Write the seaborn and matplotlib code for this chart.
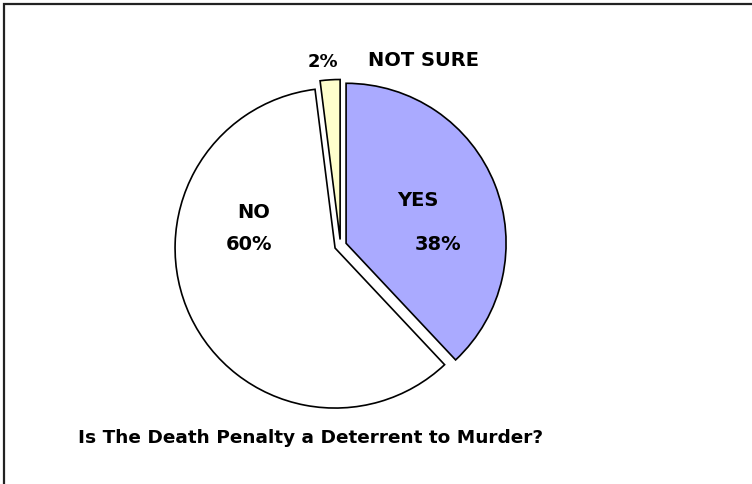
import matplotlib
matplotlib.use("Agg")
import matplotlib.pyplot as plt
import seaborn as sns
from matplotlib.patches import Rectangle

# Survey answers
categories = ["YES", "NO", "NOT SURE"]
shares = [38, 60, 2]
colors = ["#AAAAFF", "#FFFFFF", "#FFFFCC"]
title = "Is The Death Penalty a Deterrent to Murder?"

sns.set_theme(style="white")
plt.rcParams["font.family"] = ["DejaVu Sans"]

W, H = 752, 484
fig = plt.figure(figsize=(W / 100, H / 100), dpi=100)
ax = fig.add_axes([0, 0, 1, 1])

# Pie in pixel-like units so the layout can be set directly
radius = 160
center = (340.5, H - 245.5)
ax.pie(
    shares,
    colors=colors,
    startangle=90,
    counterclock=False,
    radius=radius,
    center=center,
    explode=[6, 6, 6],
    wedgeprops=dict(edgecolor="black", linewidth=1.2),
)
ax.set_xlim(0, W)
ax.set_ylim(0, H)
ax.set_aspect("equal")
ax.axis("off")

fs = 14
kw = dict(fontsize=fs, fontweight="bold", color="black", ha="center", va="center")
ax.text(418, H - 201, categories[0], **kw)
ax.text(438, H - 245, f"{shares[0]}%", **kw)
ax.text(254, H - 213, categories[1], **kw)
ax.text(249, H - 245, f"{shares[1]}%", **kw)
ax.text(323, H - 62, f"{shares[2]}%", **dict(kw, fontsize=fs - 1))
ax.text(423, H - 61, categories[2], **kw)

ax.text(78, H - 438, title, fontsize=13.3, fontweight="bold", color="black",
        ha="left", va="center")

# Frame line along the top and left edges
fig.add_artist(Rectangle((4 / W, -0.1), 1.2, (H - 4) / H + 0.1,
                         transform=fig.transFigure, fill=False,
                         edgecolor="#222222", linewidth=1.6))

fig.savefig("out.png", dpi=100, facecolor="white")
